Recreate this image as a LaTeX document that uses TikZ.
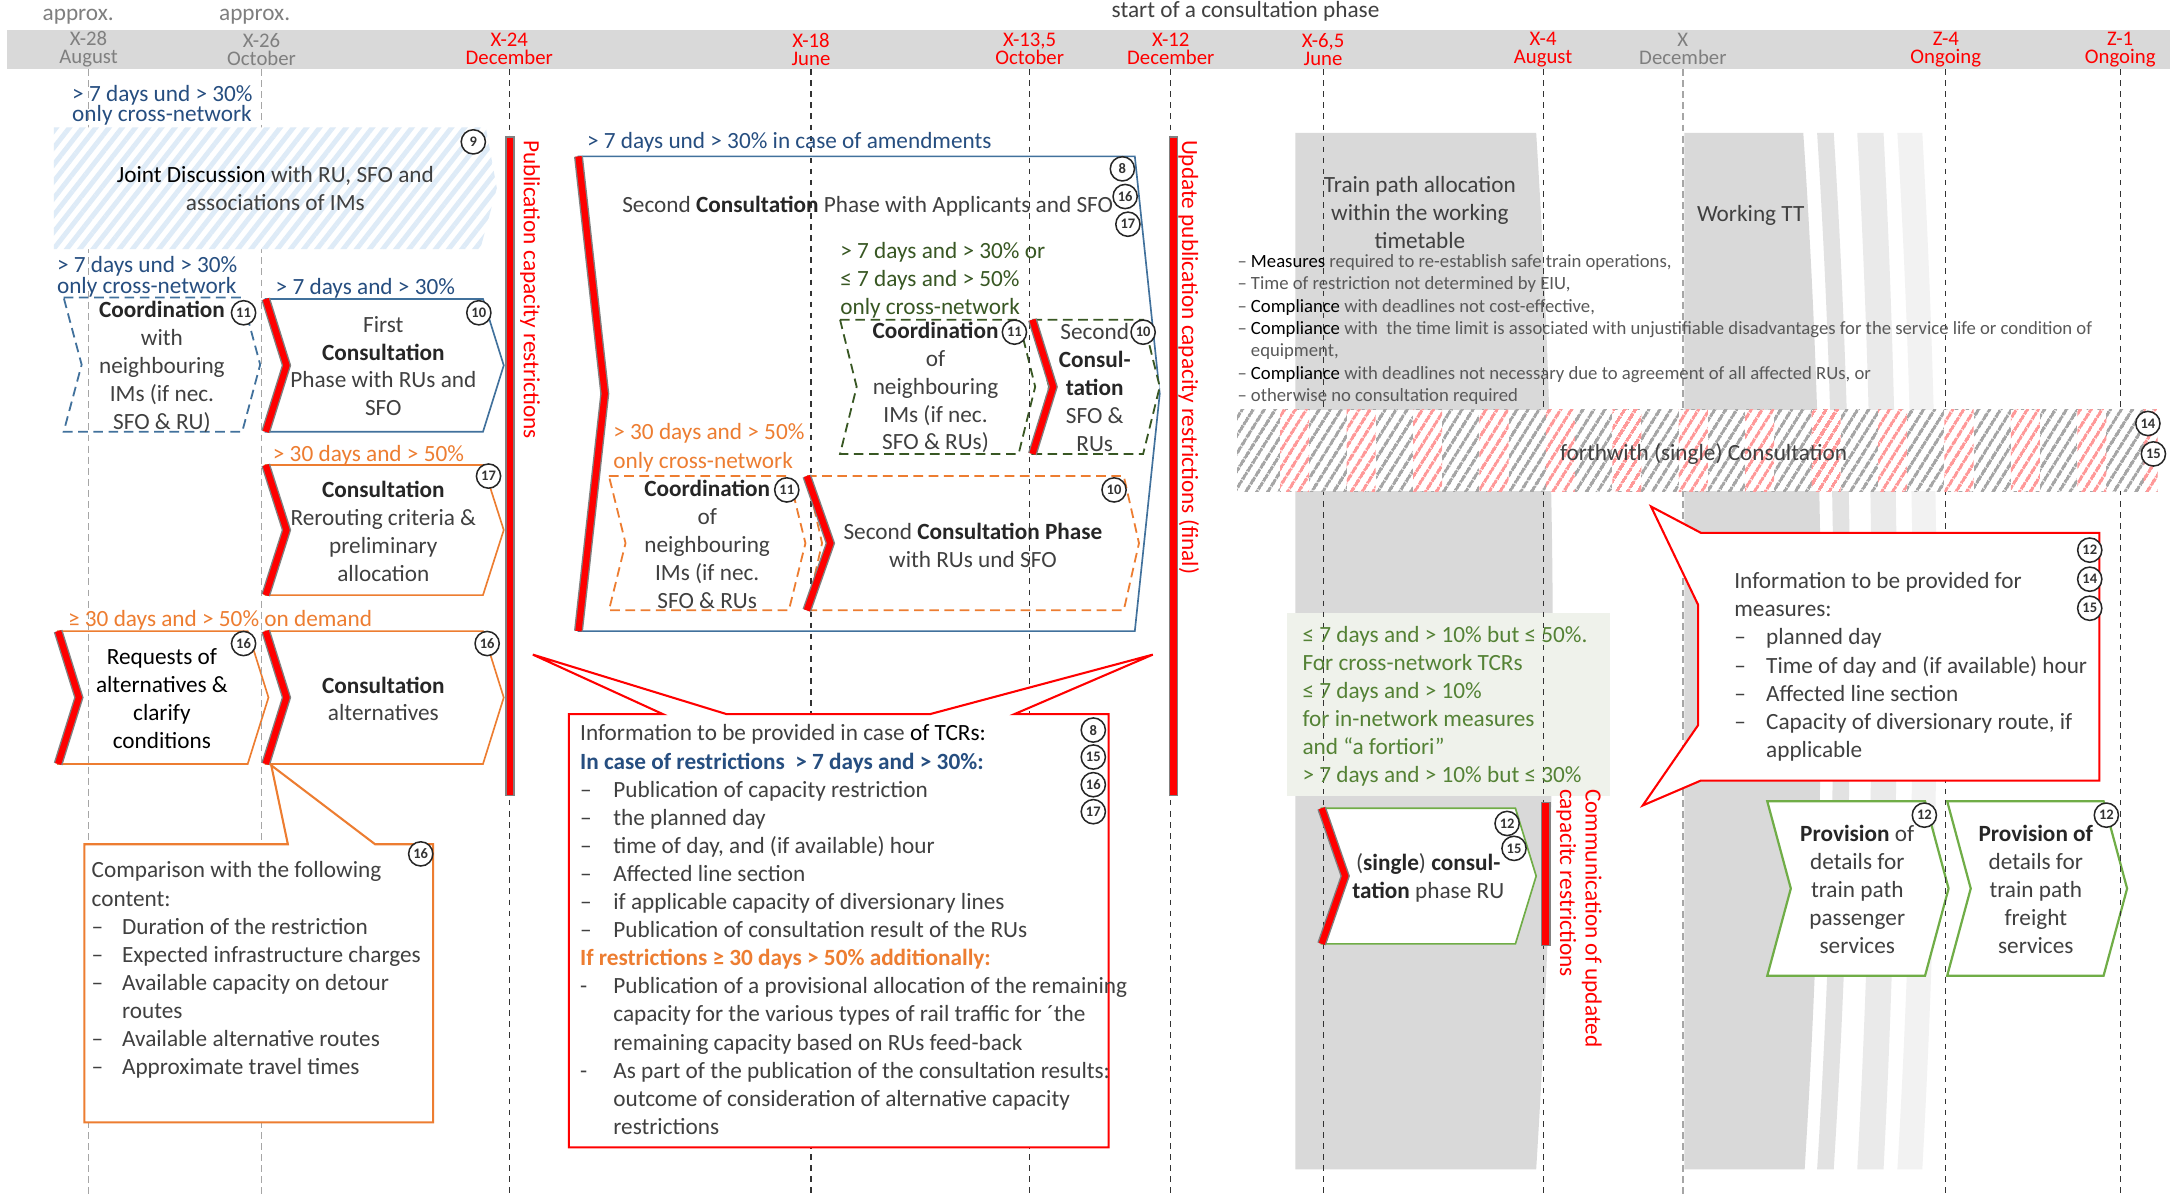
\documentclass[tikz,border=0pt]{standalone}
\usepackage{fontspec}
\setmainfont{Carlito}
\usetikzlibrary{patterns.meta}
\definecolor{bandgray}{RGB}{217,217,217}
\definecolor{stripeA}{RGB}{226,226,226}
\definecolor{stripeB}{RGB}{234,234,234}
\definecolor{stripeC}{RGB}{242,242,242}
\definecolor{tlgray}{RGB}{127,127,127}
\definecolor{txtgray}{RGB}{64,64,64}
\definecolor{lgtxt}{RGB}{89,89,89}
\definecolor{lblue}{RGB}{38,78,128}
\definecolor{bblue}{RGB}{65,113,156}
\definecolor{borange}{RGB}{237,125,49}
\definecolor{dgreen}{RGB}{56,87,35}
\definecolor{mgreen}{RGB}{84,130,53}
\definecolor{pgreen}{RGB}{112,173,71}
\definecolor{hblue}{RGB}{222,235,247}
\definecolor{hgray}{RGB}{166,166,166}
\definecolor{hpink}{RGB}{255,153,153}
\definecolor{boxgreen}{RGB}{239,242,235}

\newcommand{\kw}[1]{\textbf{\textcolor{black!85}{#1}}}
\newcommand{\chevron}[6][]{%
  \pgfmathsetmacro\chevmid{(#3+#5)/2}%
  \draw[#1] (#2,#3) -- ({#4-#6},#3) -- (#4,\chevmid) -- ({#4-#6},#5) -- (#2,#5) -- ({#2+#6},\chevmid) -- cycle;}
\newcommand{\rededge}[4]{%
  \pgfmathsetmacro\chevmid{(#2+#3)/2}%
  \draw[gray,line width=6.5pt] (#1,#2) -- ({#1+#4},\chevmid) -- (#1,#3);
  \draw[red,line width=4.5pt] (#1,#2) -- ({#1+#4},\chevmid) -- (#1,#3);}

\begin{document}
\begin{tikzpicture}[x=1pt,y=-1pt,
    body/.style={inner sep=0pt,align=center,text=txtgray,font=\fontsize{16.8}{20.2}\selectfont},
    cond/.style={inner sep=0pt,align=left,anchor=west,font=\fontsize{16.8}{15}\selectfont},
    tlabel/.style={inner sep=0pt,align=center,font=\fontsize{15}{13}\selectfont},
    numc/.style={circle,draw=black!85,fill=white,line width=1.1pt,inner sep=0pt,minimum size=17.5pt,
                 text=black!80,font=\bfseries\fontsize{10.5}{10.5}\selectfont},
    vline/.style={black!80,line width=0.8pt,dash pattern=on 4pt off 4pt},
    gline/.style={hgray,line width=1pt,dash pattern=on 5pt off 3pt},
    rbar/.style={fill=red,draw=gray,line width=1pt},
    rtxt/.style={inner sep=0pt,rotate=-90,anchor=west,align=left,text=red,font=\fontsize{16.8}{18.5}\selectfont},
    cout/.style={fill=white,line width=1.5pt,line join=miter},
    cbox/.style={fill=white,line width=1.2pt},
    dbox/.style={fill=white,line width=1.3pt,dash pattern=on 7pt off 4pt},
    tbl/.style={inner sep=0pt,anchor=north west,text=txtgray,font=\fontsize{16.8}{20.3}\selectfont},
    jhatch/.style={fill=white,postaction={pattern={Lines[angle=52,distance=7.5pt,line width=3.5pt]},pattern color=hblue}},
    fhatch/.style={fill=white,postaction={pattern={Lines[angle=58,distance=6.5pt,line width=2.4pt]},pattern color=hgray}},
    phatch/.style={fill=white,postaction={pattern={Lines[angle=58,distance=6.5pt,line width=2.4pt]},pattern color=hpink}}]

  \useasboundingbox (0,0) rectangle (1568,863);
  \fill[white] (0,0) rectangle (1568,863);
  \fill[bandgray] (5,22) rectangle (1568,50);

  \node[body,text=tlgray] (apx1) at (56.5,12) {approx.};
  \node[body,text=tlgray] (apx2) at (184,12) {approx.};
  \node[body] (start) at (900,8.5) {start of a consultation phase};
  \foreach \x/\a/\b/\c [count=\i] in {64/X-28/August/tlgray,189/X-26/October/tlgray,368/X-24/December/red,
      586/X-18/June/red,744/{X-13,5}/October/red,846/X-12/December/red,956/{X-6,5}/June/red,
      1115/X-4/August/red,1216/X/December/tlgray,1406/Z-4/Ongoing/red,1532/Z-1/Ongoing/red}
    \node[tlabel,text=\c] (tl\i) at (\x,35.5) {\a\\\b};

  \fill[bandgray] (936,96) -- (1110,96) .. controls (1126,350) and (1126,590) .. (1110,845) -- (936,845) -- cycle;
  \fill[bandgray] (1217,96) -- (1303,96) .. controls (1320,350) and (1320,590) .. (1304,845) -- (1217,845) -- cycle;
  \fill[stripeA] (1313,96) -- (1325,96) .. controls (1341,350) and (1341,590) .. (1325,845)
    -- (1313,845) .. controls (1329,590) and (1329,350) .. (1313,96) -- cycle;
  \fill[stripeB] (1342,96) -- (1361,96) .. controls (1374,350) and (1374,590) .. (1361,845)
    -- (1342,845) .. controls (1356,590) and (1356,350) .. (1342,96) -- cycle;
  \fill[stripeC] (1371,96) -- (1389,96) .. controls (1403,350) and (1403,590) .. (1389,845)
    -- (1371,845) .. controls (1386,590) and (1386,350) .. (1371,96) -- cycle;
  \fill[boxgreen] (930,443) rectangle (1163,575);

  \chevron[dbox,draw=bblue]{46}{215}{188}{312}{13}
  \chevron[cbox,draw=bblue]{192}{216}{364}{312}{15}
  \chevron[cbox,draw=borange]{192}{336}{364}{430}{15}
  \chevron[cbox,draw=borange]{42}{456}{194}{552}{15}
  \chevron[cbox,draw=borange]{192}{456}{364}{552}{15}
  \chevron[cbox,draw=bblue]{418}{113}{838}{456}{18}
  \chevron[dbox,draw=dgreen]{607}{231}{748}{328}{12}
  \chevron[dbox,draw=dgreen]{746}{231}{838}{328}{12}
  \chevron[dbox,draw=borange]{440}{344}{582}{441}{12}
  \chevron[dbox,draw=borange]{583}{344}{823}{441}{11}
  \chevron[cbox,draw=pgreen]{955}{584}{1110}{682}{15}
  \chevron[cbox,draw=pgreen,line width=1.6pt]{1277}{579}{1408}{705}{17}
  \chevron[cbox,draw=pgreen,line width=1.6pt]{1407}{579}{1537}{705}{17}

  \foreach \i in {1,2,9}
    \draw[gline] (tl\i |- 0,50) -- (tl\i |- 0,863);
  \foreach \i in {3,4,5,6,7,8,10,11}
    \draw[vline] (tl\i |- 0,50) -- (tl\i |- 0,863);

  \rededge{192}{216}{312}{15}
  \rededge{192}{336}{430}{15}
  \rededge{42}{456}{552}{15}
  \rededge{192}{456}{552}{15}
  \rededge{418}{113}{456}{19}
  \rededge{746}{231}{328}{15}
  \rededge{583}{344}{441}{17}
  \rededge{955}{584}{682}{17}

  \fill[jhatch] (39,92) -- (351,92) -- (359,136) -- (347,180) -- (39,180) -- cycle;
  \fill[fhatch] (894,296) rectangle (1559,355);
  \begin{scope}
    \clip (894,296) rectangle (1559,355);
    \foreach \k in {0,...,13}
      \fill[phatch] ({925+48*\k},296) rectangle ({946+48*\k},355);
  \end{scope}

  \draw[rbar] (365.5,99) rectangle (371.5,575);
  \draw[rbar] (845,99) rectangle (851,575);
  \draw[rbar] (1114,580) rectangle (1120,683);
  \node[rtxt] (pub) at (383,101) {Publication capacity restrictions};
  \node[rtxt] (upd) at (859,101) {Update publication capacity restrictions (final)};
  \node[rtxt] (com) at (1141,570) {Communication of updated\\capacitc restrictions};

  \draw[cout,draw=borange] (61,610) -- (208,610) -- (196,553) -- (271,610) -- (313,610)
    -- (313,811) -- (61,811) -- cycle;
  \draw[cout,draw=red] (411,516) -- (479,516) -- (385,473) -- (525,516) -- (672,516) -- (833,473)
    -- (733,516) -- (801,516) -- (801,829) -- (411,829) -- cycle;
  \draw[cout,draw=red] (1229,385) -- (1193,366) -- (1227,437) -- (1227,524) -- (1187,582)
    -- (1229,564) -- (1517,564) -- (1517,385) -- cycle;

  \node[cond,text=lblue] (c1) at (52,76) {> 7 days und > 30\%\\only cross-network};
  \node[body] (jd) at (199,136.5) {\textcolor{black}{Joint Discussion} with RU, SFO and\\associations of IMs};
  \node[cond,text=lblue] (c2) at (41,200) {> 7 days und > 30\%\\only cross-network};
  \node[cond,text=lblue] (c3) at (199,208) {> 7 days and > 30\%};
  \node[body] (co1) at (117,265) {\kw{Coordination}\\with\\neighbouring\\IMs (if nec.\\SFO \& RU)};
  \node[body] (fc1) at (277,264.5) {First\\\kw{Consultation}\\Phase with RUs and\\SFO};
  \node[cond,text=borange] (c4) at (197,329) {> 30 days and > 50\%};
  \node[body] (rc1) at (277,384) {\kw{Consultation}\\Rerouting criteria \&\\preliminary\\allocation};
  \node[cond,text=borange] (c5) at (49,448) {≥ 30 days and > 50\% on demand};
  \node[body,text=black] (rq1) at (117,505) {Requests of\\alternatives \&\\clarify\\conditions};
  \node[body] (ca1) at (277,505) {\kw{Consultation}\\alternatives};

  \node[cond,text=lblue] (c6) at (424,103) {> 7 days und > 30\% in case of amendments};
  \node[body] (sc2) at (627,149) {Second \kw{Consultation} Phase with Applicants and SFO};
  \node[cond,text=dgreen,font=\fontsize{16.8}{20.5}\selectfont] (c7) at (607,202.5)
    {> 7 days and > 30\% or\\≤ 7 days and > 50\%\\only cross-network};
  \node[body] (coG) at (676,280) {\kw{Coordination}\\of\\neighbouring\\IMs (if nec.\\SFO \& RUs)};
  \node[body] (scG) at (791,280) {Second\\\kw{Consul-}\\\kw{tation}\\SFO \&\\RUs};
  \node[cond,text=borange,font=\fontsize{16.8}{20.5}\selectfont] (c8) at (443,323.5)
    {> 30 days and > 50\%\\only cross-network};
  \node[body] (coO) at (511,393.5) {\kw{Coordination}\\of\\neighbouring\\IMs (if nec.\\SFO \& RUs};
  \node[body] (scO) at (703,394) {Second \kw{Consultation Phase}\\with RUs und SFO};

  \node[tbl] (cmp) at (66,620) {%
    \begin{tabular}{@{}p{22pt}@{}l@{}}
      \multicolumn{2}{@{}l@{}}{Comparison with the following}\\
      \multicolumn{2}{@{}l@{}}{content:}\\
      – & Duration of the restriction\\
      – & Expected infrastructure charges\\
      – & Available capacity on detour\\
        & routes\\
      – & Available alternative routes\\
      – & Approximate travel times
    \end{tabular}};
  \node[tbl] (tcr) at (419,521) {%
    \begin{tabular}{@{}p{24pt}@{}l@{}}
      \multicolumn{2}{@{}l@{}}{Information to be provided in case \textcolor{black}{of TCRs:}}\\
      \multicolumn{2}{@{}l@{}}{\textcolor{lblue}{\textbf{In case of restrictions\ \ > 7 days and > 30\%:}}}\\
      – & Publication of capacity restriction\\
      – & the planned day\\
      – & time of day, and (if available) hour\\
      – & Affected line section\\
      – & if applicable capacity of diversionary lines\\
      – & Publication of consultation result of the RUs\\
      \multicolumn{2}{@{}l@{}}{\textcolor{borange}{\textbf{If restrictions ≥ 30 days > 50\% additionally:}}}\\
      - & Publication of a provisional allocation of the remaining\\
        & capacity for the various types of rail traffic for ´the\\
        & remaining capacity based on RUs feed-back\\
      - & As part of the publication of the consultation results:\\
        & outcome of consideration of alternative capacity\\
        & restrictions
    \end{tabular}};

  \node[body] (tp) at (1026,153.5) {Train path allocation\\within the working\\timetable};
  \node[body] (wt) at (1265,155.5) {Working TT};
  \node[inner sep=0pt,anchor=north west,text=lgtxt,font=\fontsize{13.5}{16.2}\selectfont] (msr) at (894,181.5) {%
    \begin{tabular}{@{}l@{\hspace{3pt}}l@{}}
      – & \textcolor{black}{Measures} required to re-establish safe train operations,\\
      – & Time of restriction not determined by EIU,\\
      – & \textcolor{black}{Compliance} with deadlines not cost-effective,\\
      – & \textcolor{black}{Compliance} with\ \ the time limit is associated with unjustifiable disadvantages for the service life or condition of\\
        & equipment,\\
      – & \textcolor{black}{Compliance} with deadlines not necessary due to agreement of all affected RUs, or\\
      – & otherwise no consultation required
    \end{tabular}};
  \node[body] (fw) at (1231,328) {forthwith (single) Consultation};
  \node[cond,text=mgreen,font=\fontsize{16.8}{20.2}\selectfont] (gt) at (941,510.5)
    {≤ 7 days and > 10\% but ≤ 50\%.\\For cross-network TCRs\\≤ 7 days and > 10\%\\for in-network measures\\and “a fortiori"\\> 7 days and > 10\% but ≤ 30\%};
  \node[body] (sg1) at (1032,634) {(\kw{single}) \kw{consul-}\\\kw{tation} phase RU};
  \node[tbl] (msi) at (1253,411) {%
    \begin{tabular}{@{}p{23pt}@{}l@{}}
      \multicolumn{2}{@{}l@{}}{Information to be provided for}\\
      \multicolumn{2}{@{}l@{}}{measures:}\\
      – & planned day\\
      – & Time of day and (if available) hour\\
      – & Affected line section\\
      – & Capacity of diversionary route, if\\
        & applicable
    \end{tabular}};
  \node[body] (pv1) at (1342,642.5) {\kw{Provision} of\\details for\\train path\\passenger\\services};
  \node[body] (pv2) at (1471,642.5) {\kw{Provision of}\\details for\\train path\\freight\\services};

  \node[numc] (n9) at (342,102.5) {9};
  \node[numc] (n11a) at (176,226) {11};
  \node[numc] (n10a) at (346,226) {10};
  \node[numc] (n17a) at (353,344) {17};
  \node[numc] (n16a) at (176,465) {16};
  \node[numc] (n16b) at (352,465) {16};
  \node[numc] (n16e) at (304,617) {16};
  \node[numc] (n8a) at (811,122) {8};
  \node[numc] (n16c) at (813,142) {16};
  \node[numc] (n17b) at (815,162) {17};
  \node[numc] (n11b) at (733,240) {11};
  \node[numc] (n10b) at (826,240) {10};
  \node[numc] (n11c) at (568.5,354) {11};
  \node[numc] (n10c) at (805,354) {10};
  \node[numc] (n8b) at (790,527.5) {8};
  \node[numc] (n15a) at (790,547) {15};
  \node[numc] (n16d) at (790,567) {16};
  \node[numc] (n17c) at (790,586.5) {17};
  \node[numc] (n14b) at (1552,306) {14};
  \node[numc] (n15c) at (1556,328) {15};
  \node[numc] (n12a) at (1510,397.5) {12};
  \node[numc] (n14a) at (1510,418.5) {14};
  \node[numc] (n15b) at (1510,439.5) {15};
  \node[numc] (n12b) at (1089,595) {12};
  \node[numc] (n15d) at (1094,613) {15};
  \node[numc] (n12c) at (1390.5,589) {12};
  \node[numc] (n12d) at (1522,589) {12};
\end{tikzpicture}
\end{document}
